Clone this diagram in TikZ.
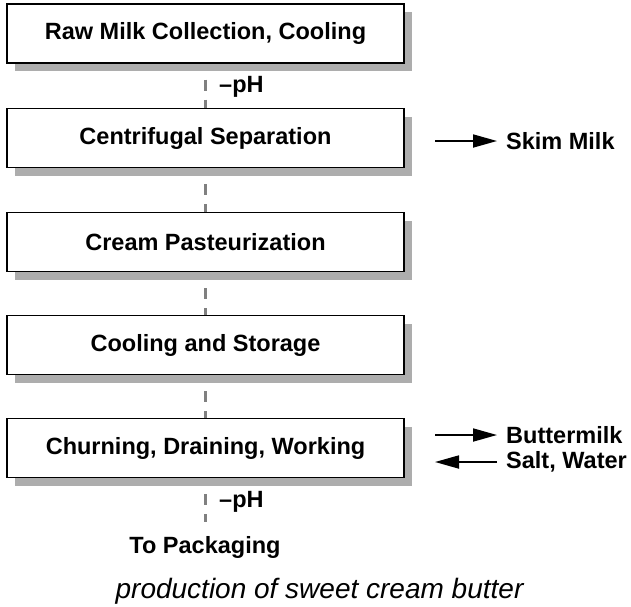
\documentclass[tikz,border=0pt]{standalone}
\usepackage{fontspec}
\setmainfont{Liberation Sans}
\newfontfamily\capfont{Liberation Sans}
\usetikzlibrary{shadows,arrows.meta,backgrounds}
\begin{document}
\begin{tikzpicture}[x=1pt,y=-1pt,
  stepbox/.style={draw=black, line width=1.4pt, fill=white,
    minimum width=397pt, minimum height=59pt, inner sep=0pt,
    font=\fontsize{23.5}{28}\selectfont\bfseries,
    drop shadow={shadow xshift=8pt, shadow yshift=-8pt, fill=black!32, opacity=1}},
  lbl/.style={font=\fontsize{23.5}{28}\selectfont\bfseries, inner sep=0pt, anchor=west},
  link/.style={draw=black!50, line width=2.4pt, dash pattern=on 11pt off 9pt, dash phase=4pt},
  flow/.style={line width=1.8pt, -{Triangle[length=24pt,width=13pt]}}]
\useasboundingbox (0,0) rectangle (631,606);
\node[stepbox] (b1) at (205.5,33.5) {Raw Milk Collection, Cooling};
\node[stepbox] (b2) at (205.5,138) {Centrifugal Separation};
\node[stepbox] (b3) at (205.5,242) {Cream Pasteurization};
\node[stepbox] (b4) at (205.5,345) {Cooling and Storage};
\node[stepbox] (b5) at (205.5,448) {Churning, Draining, Working};
\node[lbl] (ph1) at (219,87) {–pH};
\node[lbl] (ph2) at (219,502) {–pH};
\coordinate (endc) at (205.5,522);
\node[lbl, anchor=center] (pack) at (205,547) {To Packaging};
\node[font=\capfont\itshape\fontsize{28}{32}\selectfont, inner sep=0pt, anchor=base] (cap) at (319.5,598) {production of sweet cream butter};
\begin{scope}[on background layer]
\draw[link] (b1.south) -- (b2.north);
\draw[link] (b2.south) -- (b3.north);
\draw[link] (b3.south) -- (b4.north);
\draw[link] (b4.south) -- (b5.north);
\draw[link] (b5.south) -- (endc);
\end{scope}
\node[lbl] (skim) at (506,141) {Skim Milk};
\coordinate (sk) at (435,141);
\draw[flow] (sk) -- ([xshift=-9pt]skim.west);
\node[lbl] (butter) at (506,435) {Buttermilk};
\coordinate (bm) at (435,435);
\draw[flow] (bm) -- ([xshift=-9pt]butter.west);
\node[lbl] (salt) at (506,462) {Salt, Water};
\coordinate (sw) at (435,462);
\draw[flow] ([xshift=-9pt]salt.west) -- (sw);
\end{tikzpicture}
\end{document}
